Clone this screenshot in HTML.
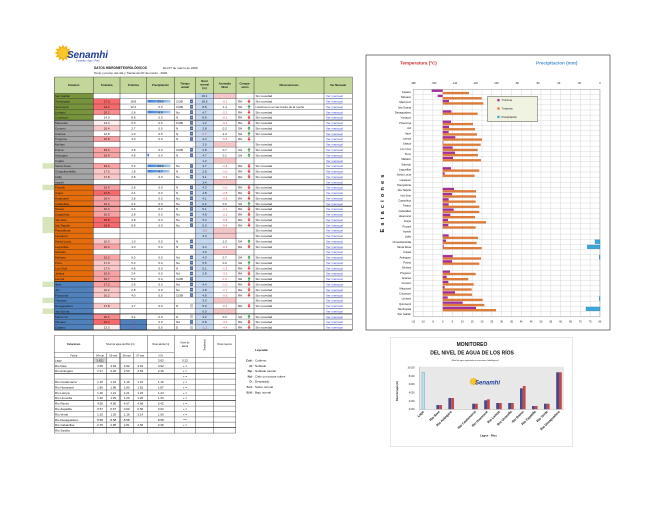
<!DOCTYPE html>
<html><head><meta charset="utf-8">
<style>
html,body{margin:0;padding:0;background:#fff;width:660px;height:510px;overflow:hidden}
svg text{font-family:"Liberation Sans",Arial,sans-serif;font-size:3px;fill:#111}
.m{text-anchor:middle}.e{text-anchor:end}
.r{fill:#e03a4a !important}
.lk{fill:#2a3fd6 !important;text-decoration:underline}
.bd{font-weight:bold}
.h{font-size:2.7px !important;font-weight:bold}
.sm{font-size:2.5px !important}
.cl{font-size:2.7px !important}
.pu{fill:#a0309b}.or{fill:#dd7b3a}.cy{fill:#3aa8d8;stroke:#2479a8;stroke-width:0.3}
</style></head><body>
<svg width="660" height="510" viewBox="0 0 660 510" xmlns="http://www.w3.org/2000/svg">
<defs>
<linearGradient id="pg" x1="0" x2="1"><stop offset="0" stop-color="#3b7dd8"/><stop offset="1" stop-color="#a9cbef"/></linearGradient>
<polygon id="dn" points="-0.6,0.8 0.6,0.8 0.6,2.6 1.6,2.6 0,4.6 -1.6,2.6 -0.6,2.6" fill="#e23b3b"/>
<polygon id="up" points="-0.6,4.6 0.6,4.6 0.6,2.8 1.6,2.8 0,0.8 -1.6,2.8 -0.6,2.8" fill="#3c9c46"/>
<g id="ic"><rect x="0" y="0.9" width="3" height="3.6" fill="#4a6aa8"/><rect x="0.5" y="2.4" width="2" height="0.5" fill="#dfe8f5"/></g>
<g id="ic2"><rect x="0" y="0.9" width="3" height="3.6" fill="#c4ccd8"/></g>
<polygon id="sun" points="8.5,0 5.6,1.5 7.36,4.25 4.1,4.1 4.25,7.36 1.5,5.6 0,8.5 -1.5,5.6 -4.25,7.36 -4.1,4.1 -7.36,4.25 -5.6,1.5 -8.5,0 -5.6,-1.5 -7.36,-4.25 -4.1,-4.1 -4.25,-7.36 -1.5,-5.6 0,-8.5 1.5,-5.6 4.25,-7.36 4.1,-4.1 7.36,-4.25 5.6,-1.5" fill="#f4b41a"/>
</defs>

<!-- LOGO -->
<use href="#sun" transform="translate(63,53)"/>
<circle cx="63" cy="53" r="4.8" fill="#f9c72a"/>
<text x="67" y="58" style="font-size:10px;font-weight:bold;font-style:italic;fill:#1e3c96" textLength="41">Senamhi</text>
<text x="76" y="61.6" style="font-size:2.4px;fill:#1e3c96">Consulta - Agro - Perú</text>
<text x="94" y="68.8" class="bd" style="font-size:3.2px">DATOS HIDROMETEOROLÓGICOS</text>
<text x="163" y="68.8" style="font-size:3.1px">Del 07 de marzo de 2020</text>
<text x="94" y="73.8" style="font-size:3px">Temp y precip. del día y Tiende del 07 de marzo - 2020</text>

<!-- MAIN TABLE backgrounds -->
<rect x="54.3" y="77" width="298" height="16.3" fill="#c4d79b"/>
<rect x="54.3" y="93.3" width="39" height="26.9" fill="#77933c"/>
<rect x="54.3" y="120.2" width="39" height="64.56" fill="#a6a6a6"/>
<rect x="54.3" y="184.76" width="39" height="96.84" fill="#e46c0a"/>
<rect x="54.3" y="281.6" width="39" height="48.42" fill="#4f81bd"/>
<rect x="195.7" y="93.3" width="17.6" height="236.72" fill="#c6d9f1"/>
<g fill="#f4c7c9">
<rect x="213.3" y="93.3" width="22.7" height="5.38"/>
<rect x="213.3" y="141.72" width="22.7" height="5.38"/>
<rect x="213.3" y="157.86" width="22.7" height="5.38"/>
<rect x="213.3" y="179.38" width="22.7" height="5.38"/>
<rect x="213.3" y="227.8" width="22.7" height="10.76"/>
<rect x="213.3" y="249.32" width="22.7" height="5.38"/>
<rect x="213.3" y="297.74" width="22.7" height="5.38"/>
<rect x="213.3" y="308.5" width="22.7" height="5.38"/>
</g>
<rect x="120" y="319.26" width="26.7" height="10.76" fill="#4f81bd"/>
<g fill="#d8e4bc">
<rect x="42.5" y="163.24" width="11.8" height="5.38"/>
<rect x="42.5" y="184.76" width="11.8" height="5.38"/>
<rect x="42.5" y="217.04" width="11.8" height="16.14"/>
<rect x="42.5" y="281.6" width="11.8" height="5.38"/>
<rect x="42.5" y="297.74" width="11.8" height="5.38"/>
<rect x="42.5" y="308.5" width="11.8" height="5.38"/>
</g>

<!-- gray bands -->
<path d="M236 98.68H352.3M236 109.44H352.3M236 114.82H352.3M236 125.58H352.3M236 130.96H352.3M236 136.34H352.3M236 141.72H352.3M236 152.48H352.3M236 157.86H352.3M236 168.62H352.3M236 174H352.3M236 179.38H352.3M236 190.14H352.3M236 195.52H352.3M236 200.9H352.3M236 211.66H352.3M236 217.04H352.3M236 222.42H352.3M236 227.8H352.3M236 233.18H352.3M236 238.56H352.3M236 243.94H352.3M236 249.32H352.3M236 254.7H352.3M236 260.08H352.3M236 265.46H352.3M236 270.84H352.3M236 276.22H352.3M236 286.98H352.3M236 292.36H352.3M236 297.74H352.3M236 303.12H352.3M236 308.5H352.3M236 319.26H352.3M236 324.64H352.3" stroke="#b4b4b4" stroke-width="1" fill="none"/>

<!-- header text -->
<text x="73.8" y="86" class="m h">Estación</text>
<text x="106.7" y="86" class="m h">Tmáxima</text>
<text x="133.3" y="86" class="m h">Tmínima</text>
<text x="160.5" y="86" class="m h">Precipitación</text>
<text x="185" y="84.5" class="m h">Tiempo</text><text x="185" y="88" class="m h">actual</text>
<text x="204.5" y="82" class="m h">Nivel</text><text x="204.5" y="85.5" class="m h">normal</text><text x="204.5" y="89" class="m h">(m)</text>
<text x="224.7" y="84.5" class="m h">Anomalía</text><text x="224.7" y="88" class="m h">Nivel</text>
<text x="245" y="84.5" class="m h">Compar-</text><text x="245" y="88" class="m h">ación</text>
<text x="289" y="86" class="m h">Observaciones</text>
<text x="338" y="86" class="m h">Ver Mensual</text>

<!-- rows -->
<g transform="translate(0,93.3)"><text x="55" y="3.9">San Gabán</text><text x="204.5" y="3.9" class="m">19.1</text><text x="255.5" y="3.9">Sin novedad</text><text x="326" y="3.9" class="lk">Ver mensual</text></g>
<g transform="translate(0,98.68)"><rect x="93.3" width="26.7" height="5.38" fill="#f8696b"/><rect x="147.5" y="1.3" width="23" height="2.6" fill="url(#pg)"/><text x="55" y="3.9">Tambopata</text><text x="106.7" y="3.9" class="m">27.0</text><text x="133.3" y="3.9" class="m">18.8</text><text x="160.5" y="3.9" class="m">13.0</text><text x="176" y="3.9">CUBI</text><use href="#ic" x="190"/><text x="204.5" y="3.9" class="m">18.6</text><text x="224.7" y="3.9" class="m r">-0.1</text><text x="238" y="3.9">RH</text><use href="#dn" x="249"/><text x="255.5" y="3.9">Sin novedad</text><text x="326" y="3.9" class="lk">Ver mensual</text></g>
<g transform="translate(0,104.06)"><rect x="93.3" width="26.7" height="5.38" fill="#f8696b"/><text x="55" y="3.9">Quincemil</text><text x="106.7" y="3.9" class="m">21.2</text><text x="133.3" y="3.9" class="m">12.2</text><text x="160.5" y="3.9" class="m">0.0</text><text x="176" y="3.9">CUBI</text><use href="#ic" x="190"/><text x="204.5" y="3.9" class="m">8.8</text><text x="224.7" y="3.9" class="m">1.4</text><text x="238" y="3.9">SH</text><use href="#up" x="249"/><text x="255.5" y="3.9">Llovizna en en las horas de la noche</text><text x="326" y="3.9" class="lk">Ver mensual</text></g>
<g transform="translate(0,109.44)"><rect x="93.3" width="26.7" height="5.38" fill="#f98c8e"/><rect x="147.5" y="1.3" width="23" height="2.6" fill="url(#pg)"/><text x="55" y="3.9">Limbani</text><text x="106.7" y="3.9" class="m">20.2</text><text x="133.3" y="3.9" class="m">2.8</text><text x="160.5" y="3.9" class="m">6.0</text><text x="176" y="3.9">Nu</text><use href="#ic" x="190"/><text x="204.5" y="3.9" class="m">4.7</text><text x="224.7" y="3.9" class="m r">-2.2</text><text x="238" y="3.9">RH</text><use href="#dn" x="249"/><text x="255.5" y="3.9">Sin novedad</text><text x="326" y="3.9" class="lk">Ver mensual</text></g>
<g transform="translate(0,114.82)"><text x="55" y="3.9">Cuyocuyo</text><text x="106.7" y="3.9" class="m">14.0</text><text x="133.3" y="3.9" class="m">8.8</text><text x="160.5" y="3.9" class="m">0.0</text><text x="176" y="3.9">N</text><use href="#ic" x="190"/><text x="204.5" y="3.9" class="m">8.8</text><text x="224.7" y="3.9" class="m r">-0.1</text><text x="238" y="3.9">RH</text><use href="#dn" x="249"/><text x="255.5" y="3.9">Sin novedad</text><text x="326" y="3.9" class="lk">Ver mensual</text></g>
<g transform="translate(0,120.2)"><rect x="93.3" width="26.7" height="5.38" fill="#fdeeee"/><text x="55" y="3.9">Macusani</text><text x="106.7" y="3.9" class="m">14.4</text><text x="133.3" y="3.9" class="m">5.0</text><text x="160.5" y="3.9" class="m">0.0</text><text x="176" y="3.9">CUBI</text><use href="#ic" x="190"/><text x="204.5" y="3.9" class="m">1.2</text><text x="224.7" y="3.9" class="m r">-0.4</text><text x="238" y="3.9">RH</text><use href="#dn" x="249"/><text x="255.5" y="3.9">Sin novedad</text><text x="326" y="3.9" class="lk">Ver mensual</text></g>
<g transform="translate(0,125.58)"><rect x="93.3" width="26.7" height="5.38" fill="#fbc8c9"/><text x="55" y="3.9">Crucero</text><text x="106.7" y="3.9" class="m">16.4</text><text x="133.3" y="3.9" class="m">2.7</text><text x="160.5" y="3.9" class="m">0.0</text><text x="176" y="3.9">N</text><use href="#ic" x="190"/><text x="204.5" y="3.9" class="m">2.8</text><text x="224.7" y="3.9" class="m">0.2</text><text x="238" y="3.9">SH</text><use href="#up" x="249"/><text x="255.5" y="3.9">Sin novedad</text><text x="326" y="3.9" class="lk">Ver mensual</text></g>
<g transform="translate(0,130.96)"><text x="55" y="3.9">Ananea</text><text x="106.7" y="3.9" class="m">12.8</text><text x="133.3" y="3.9" class="m">1.0</text><text x="160.5" y="3.9" class="m">0.0</text><text x="176" y="3.9">N</text><use href="#ic" x="190"/><text x="204.5" y="3.9" class="m r">0.7</text><text x="224.7" y="3.9" class="m">2.3</text><text x="238" y="3.9">SH</text><use href="#up" x="249"/><text x="255.5" y="3.9">Sin novedad</text><text x="326" y="3.9" class="lk">Ver mensual</text></g>
<g transform="translate(0,136.34)"><rect x="93.3" width="26.7" height="5.38" fill="#f9a3a5"/><text x="55" y="3.9">Progreso</text><text x="106.7" y="3.9" class="m">16.8</text><text x="133.3" y="3.9" class="m">3.0</text><text x="160.5" y="3.9" class="m">0.0</text><text x="176" y="3.9">N</text><use href="#ic" x="190"/><text x="204.5" y="3.9" class="m">4.4</text><text x="224.7" y="3.9" class="m r">-5.8</text><text x="238" y="3.9">RH</text><use href="#dn" x="249"/><text x="326" y="3.9" class="lk">Ver mensual</text></g>
<g transform="translate(0,141.72)"><text x="55" y="3.9">Muñani</text><text x="204.5" y="3.9" class="m">3.0</text><text x="255.5" y="3.9">Sin novedad</text><text x="326" y="3.9" class="lk">Ver mensual</text></g>
<g transform="translate(0,147.1)"><rect x="93.3" width="26.7" height="5.38" fill="#f9a3a5"/><text x="55" y="3.9">Putina</text><text x="106.7" y="3.9" class="m">16.4</text><text x="133.3" y="3.9" class="m">4.8</text><text x="160.5" y="3.9" class="m">0.0</text><text x="176" y="3.9">CUBI</text><use href="#ic" x="190"/><text x="204.5" y="3.9" class="m">2.8</text><text x="224.7" y="3.9" class="m">0.7</text><text x="238" y="3.9">SH</text><use href="#up" x="249"/><text x="255.5" y="3.9">Sin novedad</text><text x="326" y="3.9" class="lk">Ver mensual</text></g>
<g transform="translate(0,152.48)"><rect x="93.3" width="26.7" height="5.38" fill="#f9a3a5"/><rect x="147.5" y="1.3" width="1.6" height="2.6" fill="#3b7dd8"/><text x="55" y="3.9">Azángaro</text><text x="106.7" y="3.9" class="m">16.4</text><text x="133.3" y="3.9" class="m">4.8</text><text x="160.5" y="3.9" class="m">0.4</text><text x="176" y="3.9">N</text><use href="#ic" x="190"/><text x="204.5" y="3.9" class="m">4.7</text><text x="224.7" y="3.9" class="m">0.1</text><text x="238" y="3.9">SH</text><use href="#up" x="249"/><text x="255.5" y="3.9">Sin novedad</text><text x="326" y="3.9" class="lk">Ver mensual</text></g>
<g transform="translate(0,157.86)"><text x="55" y="3.9">Cojata</text><text x="204.5" y="3.9" class="m">1.2</text><text x="326" y="3.9" class="lk">Ver mensual</text></g>
<g transform="translate(0,163.24)"><rect x="93.3" width="26.7" height="5.38" fill="#f9a3a5"/><rect x="147.5" y="1.3" width="23" height="2.6" fill="url(#pg)"/><text x="55" y="3.9">Santa Rosa</text><text x="106.7" y="3.9" class="m">16.4</text><text x="133.3" y="3.9" class="m">5.2</text><text x="160.5" y="3.9" class="m">13.0</text><text x="176" y="3.9">Nu</text><use href="#ic" x="190"/><text x="204.5" y="3.9" class="m">4.7</text><text x="224.7" y="3.9" class="m r">-1.8</text><text x="238" y="3.9">RH</text><use href="#dn" x="249"/><text x="255.5" y="3.9">Sin novedad</text><text x="326" y="3.9" class="lk">Ver mensual</text></g>
<g transform="translate(0,168.62)"><rect x="93.3" width="26.7" height="5.38" fill="#fbc8c9"/><rect x="147.5" y="1.3" width="22" height="2.6" fill="url(#pg)"/><text x="55" y="3.9">Chuquibambilla</text><text x="106.7" y="3.9" class="m">17.0</text><text x="133.3" y="3.9" class="m">1.8</text><text x="160.5" y="3.9" class="m">4.7</text><text x="176" y="3.9">N</text><use href="#ic" x="190"/><text x="204.5" y="3.9" class="m">2.8</text><text x="224.7" y="3.9" class="m r">-1.0</text><text x="238" y="3.9">RH</text><use href="#dn" x="249"/><text x="255.5" y="3.9">Sin novedad</text><text x="326" y="3.9" class="lk">Ver mensual</text></g>
<g transform="translate(0,174)"><rect x="93.3" width="26.7" height="5.38" fill="#fbc8c9"/><text x="55" y="3.9">Llally</text><text x="106.7" y="3.9" class="m">17.8</text><text x="133.3" y="3.9" class="m">2.8</text><text x="160.5" y="3.9" class="m">0.0</text><text x="176" y="3.9">Nu</text><use href="#ic" x="190"/><text x="204.5" y="3.9" class="m">3.1</text><text x="224.7" y="3.9" class="m r">-0.3</text><text x="238" y="3.9">RH</text><use href="#dn" x="249"/><text x="255.5" y="3.9">Sin novedad</text><text x="326" y="3.9" class="lk">Ver mensual</text></g>
<g transform="translate(0,179.38)"><text x="55" y="3.9">Ayaviri</text><text x="204.5" y="3.9" class="m">3.4</text><text x="326" y="3.9" class="lk">Ver mensual</text></g>
<g transform="translate(0,184.76)"><rect x="93.3" width="26.7" height="5.38" fill="#f9a3a5"/><text x="55" y="3.9">Pucará</text><text x="106.7" y="3.9" class="m">16.4</text><text x="133.3" y="3.9" class="m">2.8</text><text x="160.5" y="3.9" class="m">0.0</text><text x="176" y="3.9">N</text><use href="#ic" x="190"/><text x="204.5" y="3.9" class="m">4.3</text><text x="224.7" y="3.9" class="m r">-1.0</text><text x="238" y="3.9">RH</text><use href="#dn" x="249"/><text x="255.5" y="3.9">Sin novedad</text><text x="326" y="3.9" class="lk">Ver mensual</text></g>
<g transform="translate(0,190.14)"><rect x="93.3" width="26.7" height="5.38" fill="#f8696b"/><text x="55" y="3.9">Arapa</text><text x="106.7" y="3.9" class="m">21.8</text><text x="133.3" y="3.9" class="m">2.4</text><text x="160.5" y="3.9" class="m">0.0</text><text x="176" y="3.9">N</text><use href="#ic" x="190"/><text x="204.5" y="3.9" class="m">4.8</text><text x="224.7" y="3.9" class="m r">-2.8</text><text x="238" y="3.9">RH</text><use href="#dn" x="249"/><text x="255.5" y="3.9">Sin novedad</text><text x="326" y="3.9" class="lk">Ver mensual</text></g>
<g transform="translate(0,195.52)"><rect x="93.3" width="26.7" height="5.38" fill="#f9a3a5"/><text x="55" y="3.9">Huancané</text><text x="106.7" y="3.9" class="m">16.4</text><text x="133.3" y="3.9" class="m">3.8</text><text x="160.5" y="3.9" class="m">0.0</text><text x="176" y="3.9">Nu</text><use href="#ic" x="190"/><text x="204.5" y="3.9" class="m">4.1</text><text x="224.7" y="3.9" class="m r">-0.8</text><text x="238" y="3.9">RH</text><use href="#dn" x="249"/><text x="255.5" y="3.9">Sin novedad</text><text x="326" y="3.9" class="lk">Ver mensual</text></g>
<g transform="translate(0,200.9)"><rect x="93.3" width="26.7" height="5.38" fill="#f9a3a5"/><text x="55" y="3.9">Cabanillas</text><text x="106.7" y="3.9" class="m">16.4</text><text x="133.3" y="3.9" class="m">0.2</text><text x="160.5" y="3.9" class="m">0.0</text><text x="176" y="3.9">Nu</text><use href="#ic" x="190"/><text x="204.5" y="3.9" class="m">0.2</text><text x="224.7" y="3.9" class="m">0.0</text><text x="238" y="3.9">SH</text><use href="#up" x="249"/><text x="255.5" y="3.9">Sin novedad</text><text x="326" y="3.9" class="lk">Ver mensual</text></g>
<g transform="translate(0,206.28)"><rect x="93.3" width="26.7" height="5.38" fill="#f9a3a5"/><text x="55" y="3.9">Taraco</text><text x="106.7" y="3.9" class="m">16.4</text><text x="133.3" y="3.9" class="m">3.2</text><text x="160.5" y="3.9" class="m">0.0</text><text x="176" y="3.9">N</text><use href="#ic" x="190"/><text x="204.5" y="3.9" class="m">5.1</text><text x="224.7" y="3.9" class="m r">-2.1</text><text x="238" y="3.9">RH</text><use href="#dn" x="249"/><text x="255.5" y="3.9">Sin novedad</text><text x="326" y="3.9" class="lk">Ver mensual</text></g>
<g transform="translate(0,211.66)"><rect x="93.3" width="26.7" height="5.38" fill="#f9a3a5"/><text x="55" y="3.9">Capachica</text><text x="106.7" y="3.9" class="m">16.0</text><text x="133.3" y="3.9" class="m">2.8</text><text x="160.5" y="3.9" class="m">0.0</text><text x="176" y="3.9">Nu</text><use href="#ic" x="190"/><text x="204.5" y="3.9" class="m">4.8</text><text x="224.7" y="3.9" class="m r">-2.2</text><text x="238" y="3.9">RH</text><use href="#dn" x="249"/><text x="255.5" y="3.9">Sin novedad</text><text x="326" y="3.9" class="lk">Ver mensual</text></g>
<g transform="translate(0,217.04)"><rect x="93.3" width="26.7" height="5.38" fill="#f8696b"/><text x="55" y="3.9">Isla Soto</text><text x="106.7" y="3.9" class="m">18.8</text><text x="133.3" y="3.9" class="m">4.8</text><text x="160.5" y="3.9" class="m">0.0</text><text x="176" y="3.9">Nu</text><use href="#ic" x="190"/><text x="204.5" y="3.9" class="m">5.4</text><text x="224.7" y="3.9" class="m r">-5.8</text><text x="238" y="3.9">RH</text><use href="#dn" x="249"/><text x="255.5" y="3.9">Sin novedad</text><text x="326" y="3.9" class="lk">Ver mensual</text></g>
<g transform="translate(0,222.42)"><rect x="93.3" width="26.7" height="5.38" fill="#f8696b"/><text x="55" y="3.9">Isla Taquile</text><text x="106.7" y="3.9" class="m">18.8</text><text x="133.3" y="3.9" class="m">8.8</text><text x="160.5" y="3.9" class="m">0.0</text><text x="176" y="3.9">Nu</text><use href="#ic" x="190"/><text x="204.5" y="3.9" class="m">5.3</text><text x="224.7" y="3.9" class="m r">-5.8</text><text x="238" y="3.9">RH</text><use href="#dn" x="249"/><text x="255.5" y="3.9">Sin novedad</text><text x="326" y="3.9" class="lk">Ver mensual</text></g>
<g transform="translate(0,227.8)"><text x="55" y="3.9">Pampahuta</text><text x="204.5" y="3.9" class="m r">-0.2</text><text x="255.5" y="3.9">Sin novedad</text><text x="326" y="3.9" class="lk">Ver mensual</text></g>
<g transform="translate(0,233.18)"><text x="55" y="3.9">Laraqueri</text><text x="204.5" y="3.9" class="m">3.0</text><text x="255.5" y="3.9">Sin novedad</text><text x="326" y="3.9" class="lk">Ver mensual</text></g>
<g transform="translate(0,238.56)"><rect x="93.3" width="26.7" height="5.38" fill="#fbc8c9"/><text x="55" y="3.9">Santa Lucía</text><text x="106.7" y="3.9" class="m">16.0</text><text x="133.3" y="3.9" class="m">1.0</text><text x="160.5" y="3.9" class="m">0.0</text><text x="176" y="3.9">N</text><use href="#ic" x="190"/><text x="224.7" y="3.9" class="m">1.0</text><text x="238" y="3.9">SH</text><use href="#up" x="249"/><text x="255.5" y="3.9">Sin novedad</text><text x="326" y="3.9" class="lk">Ver mensual</text></g>
<g transform="translate(0,243.94)"><rect x="93.3" width="26.7" height="5.38" fill="#f9a3a5"/><text x="55" y="3.9">Lagunillas</text><text x="106.7" y="3.9" class="m">16.4</text><text x="133.3" y="3.9" class="m">4.0</text><text x="160.5" y="3.9" class="m">0.0</text><text x="176" y="3.9">N</text><use href="#ic" x="190"/><text x="204.5" y="3.9" class="m">4.4</text><text x="224.7" y="3.9" class="m r">-0.4</text><text x="238" y="3.9">RH</text><use href="#dn" x="249"/><text x="255.5" y="3.9">Sin novedad</text><text x="326" y="3.9" class="lk">Ver mensual</text></g>
<g transform="translate(0,249.32)"><text x="55" y="3.9">Salcedo</text><text x="204.5" y="3.9" class="m">4.0</text><text x="326" y="3.9" class="lk">Ver mensual</text></g>
<g transform="translate(0,254.7)"><rect x="93.3" width="26.7" height="5.38" fill="#f9a3a5"/><text x="55" y="3.9">Mañazo</text><text x="106.7" y="3.9" class="m">16.2</text><text x="133.3" y="3.9" class="m">5.0</text><text x="160.5" y="3.9" class="m">0.0</text><text x="176" y="3.9">Nd</text><use href="#ic" x="190"/><text x="204.5" y="3.9" class="m">4.3</text><text x="224.7" y="3.9" class="m">0.7</text><text x="238" y="3.9">SH</text><use href="#up" x="249"/><text x="255.5" y="3.9">Sin novedad</text><text x="326" y="3.9" class="lk">Ver mensual</text></g>
<g transform="translate(0,260.08)"><rect x="93.3" width="26.7" height="5.38" fill="#fbc8c9"/><text x="55" y="3.9">Puno</text><text x="106.7" y="3.9" class="m">17.0</text><text x="133.3" y="3.9" class="m">5.0</text><text x="160.5" y="3.9" class="m">0.0</text><text x="176" y="3.9">Nu</text><use href="#ic" x="190"/><text x="204.5" y="3.9" class="m">5.5</text><text x="224.7" y="3.9" class="m">0.0</text><text x="238" y="3.9">SH</text><use href="#up" x="249"/><text x="255.5" y="3.9">Sin novedad</text><text x="326" y="3.9" class="lk">Ver mensual</text></g>
<g transform="translate(0,265.46)"><rect x="93.3" width="26.7" height="5.38" fill="#fbc8c9"/><text x="55" y="3.9">Los Uros</text><text x="106.7" y="3.9" class="m">17.4</text><text x="133.3" y="3.9" class="m">4.8</text><text x="160.5" y="3.9" class="m">0.0</text><text x="176" y="3.9">N</text><use href="#ic" x="190"/><text x="204.5" y="3.9" class="m">6.1</text><text x="224.7" y="3.9" class="m r">-1.3</text><text x="238" y="3.9">RH</text><use href="#dn" x="249"/><text x="255.5" y="3.9">Sin novedad</text><text x="326" y="3.9" class="lk">Ver mensual</text></g>
<g transform="translate(0,270.84)"><rect x="93.3" width="26.7" height="5.38" fill="#f9a3a5"/><text x="55" y="3.9">Juliaca</text><text x="106.7" y="3.9" class="m">16.0</text><text x="133.3" y="3.9" class="m">2.4</text><text x="160.5" y="3.9" class="m">0.0</text><text x="176" y="3.9">Nd</text><use href="#ic" x="190"/><text x="204.5" y="3.9" class="m">2.8</text><text x="224.7" y="3.9" class="m r">-3.2</text><text x="238" y="3.9">RH</text><use href="#dn" x="249"/><text x="255.5" y="3.9">Sin novedad</text><text x="326" y="3.9" class="lk">Ver mensual</text></g>
<g transform="translate(0,276.22)"><rect x="93.3" width="26.7" height="5.38" fill="#f9a3a5"/><text x="55" y="3.9">Lampa</text><text x="106.7" y="3.9" class="m">16.7</text><text x="133.3" y="3.9" class="m">5.3</text><text x="160.5" y="3.9" class="m">0.0</text><text x="176" y="3.9">CUBI</text><use href="#ic" x="190"/><text x="224.7" y="3.9" class="m r">0.3</text><text x="238" y="3.9">SH</text><use href="#up" x="249"/><text x="255.5" y="3.9">Sin novedad</text><text x="326" y="3.9" class="lk">Ver mensual</text></g>
<g transform="translate(0,281.6)"><rect x="93.3" width="26.7" height="5.38" fill="#f9a3a5"/><text x="55" y="3.9">Ilave</text><text x="106.7" y="3.9" class="m">17.2</text><text x="133.3" y="3.9" class="m">2.8</text><text x="160.5" y="3.9" class="m">0.0</text><text x="176" y="3.9">Nd</text><use href="#ic" x="190"/><text x="204.5" y="3.9" class="m">4.4</text><text x="224.7" y="3.9" class="m r">-1.0</text><text x="238" y="3.9">RH</text><use href="#dn" x="249"/><text x="255.5" y="3.9">Sin novedad</text><text x="326" y="3.9" class="lk">Ver mensual</text></g>
<g transform="translate(0,286.98)"><rect x="93.3" width="26.7" height="5.38" fill="#fbc8c9"/><text x="55" y="3.9">Juli</text><text x="106.7" y="3.9" class="m">16.2</text><text x="133.3" y="3.9" class="m">2.8</text><text x="160.5" y="3.9" class="m">0.0</text><text x="176" y="3.9">Nu</text><use href="#ic" x="190"/><text x="204.5" y="3.9" class="m">4.8</text><text x="224.7" y="3.9" class="m r">-1.7</text><text x="238" y="3.9">RH</text><use href="#dn" x="249"/><text x="255.5" y="3.9">Sin novedad</text><text x="326" y="3.9" class="lk">Ver mensual</text></g>
<g transform="translate(0,292.36)"><rect x="93.3" width="26.7" height="5.38" fill="#fbc8c9"/><text x="55" y="3.9">Pizacoma</text><text x="106.7" y="3.9" class="m">16.2</text><text x="133.3" y="3.9" class="m">4.0</text><text x="160.5" y="3.9" class="m">0.0</text><text x="176" y="3.9">CUBI</text><use href="#ic" x="190"/><text x="204.5" y="3.9" class="m">4.8</text><text x="224.7" y="3.9" class="m r">-0.8</text><text x="238" y="3.9">RH</text><use href="#dn" x="249"/><text x="255.5" y="3.9">Sin novedad</text><text x="326" y="3.9" class="lk">Ver mensual</text></g>
<g transform="translate(0,297.74)"><text x="55" y="3.9">Yunguyo</text><text x="204.5" y="3.9" class="m">3.0</text><text x="255.5" y="3.9">Sin novedad</text><text x="326" y="3.9" class="lk">Ver mensual</text></g>
<g transform="translate(0,303.12)"><rect x="93.3" width="26.7" height="5.38" fill="#fbc8c9"/><text x="55" y="3.9">Desaguadero</text><text x="106.7" y="3.9" class="m">17.8</text><text x="133.3" y="3.9" class="m">4.7</text><text x="160.5" y="3.9" class="m">0.0</text><text x="176" y="3.9">D</text><use href="#ic2" x="190"/><text x="204.5" y="3.9" class="m">5.0</text><text x="224.7" y="3.9" class="m r">-5.4</text><text x="238" y="3.9">RH</text><use href="#dn" x="249"/><text x="255.5" y="3.9">Sin novedad</text><text x="326" y="3.9" class="lk">Ver mensual</text></g>
<g transform="translate(0,308.5)"><text x="55" y="3.9">Isla Suana</text><text x="204.5" y="3.9" class="m">0.0</text><text x="326" y="3.9" class="lk">Ver mensual</text></g>
<g transform="translate(0,313.88)"><rect x="93.3" width="26.7" height="5.38" fill="#f98c8e"/><text x="55" y="3.9">Mazocruz</text><text x="106.7" y="3.9" class="m">20.4</text><text x="133.3" y="3.9" class="m">3.2</text><text x="160.5" y="3.9" class="m">0.0</text><text x="176" y="3.9">D</text><use href="#ic2" x="190"/><text x="204.5" y="3.9" class="m">3.2</text><text x="224.7" y="3.9" class="m">0.0</text><text x="238" y="3.9">SH</text><use href="#up" x="249"/><text x="255.5" y="3.9">Sin novedad</text><text x="326" y="3.9" class="lk">Ver mensual</text></g>
<g transform="translate(0,319.26)"><rect x="93.3" width="26.7" height="5.38" fill="#f8696b"/><text x="55" y="3.9">Tahuaco</text><text x="106.7" y="3.9" class="m">16.4</text><text x="133.3" y="3.9" class="m" style="fill:#c03a8a">3.4</text><text x="160.5" y="3.9" class="m">0.0</text><text x="176" y="3.9">Nd</text><use href="#ic" x="190"/><text x="204.5" y="3.9" class="m">0.8</text><text x="224.7" y="3.9" class="m r">-3.0</text><text x="238" y="3.9">RH</text><use href="#dn" x="249"/><text x="255.5" y="3.9">Sin novedad</text><text x="326" y="3.9" class="lk">Ver mensual</text></g>
<g transform="translate(0,324.64)"><rect x="93.3" width="26.7" height="5.38" fill="#fdeeee"/><text x="55" y="3.9">Capazo</text><text x="106.7" y="3.9" class="m">13.3</text><text x="133.3" y="3.9" class="m" style="fill:#c03a8a">-0.6</text><text x="160.5" y="3.9" class="m">0.0</text><text x="176" y="3.9">D</text><use href="#ic2" x="190"/><text x="204.5" y="3.9" class="m r">-1.2</text><text x="224.7" y="3.9" class="m r">-4.4</text><text x="238" y="3.9">RH</text><use href="#dn" x="249"/><text x="255.5" y="3.9">Sin novedad</text><text x="326" y="3.9" class="lk">Ver mensual</text></g>

<!-- main table lines -->
<path d="M54.3 77H352.3M54.3 93.3H352.3M54.3 98.68H236M54.3 104.06H352.3M54.3 109.44H236M54.3 114.82H236M54.3 120.2H352.3M54.3 125.58H236M54.3 130.96H236M54.3 136.34H236M54.3 141.72H236M54.3 147.1H352.3M54.3 152.48H236M54.3 157.86H236M54.3 163.24H352.3M54.3 168.62H236M54.3 174H236M54.3 179.38H236M54.3 184.76H352.3M54.3 190.14H236M54.3 195.52H236M54.3 200.9H236M54.3 206.28H352.3M54.3 211.66H236M54.3 217.04H236M54.3 222.42H236M54.3 227.8H236M54.3 233.18H236M54.3 238.56H236M54.3 243.94H236M54.3 249.32H236M54.3 254.7H236M54.3 260.08H236M54.3 265.46H236M54.3 270.84H236M54.3 276.22H236M54.3 281.6H352.3M54.3 286.98H236M54.3 292.36H236M54.3 297.74H236M54.3 303.12H236M54.3 308.5H236M54.3 313.88H352.3M54.3 319.26H236M54.3 324.64H236M54.3 330.02H352.3" stroke="#2a2a2a" stroke-width="0.35" fill="none"/>
<path d="M54.3 120.2H352.3M54.3 184.76H352.3M54.3 206.28H352.3M54.3 281.6H352.3M54.3 313.88H352.3M54.3 330.02H352.3" stroke="#111" stroke-width="0.7" fill="none"/>
<path d="M54.3 77V330M93.3 77V330M120 77V330M146.7 77V330M174.3 77V330M195.7 77V330M213.3 77V330M236 77V330M254 77V330M324 77V330M352.3 77V330" stroke="#2a2a2a" stroke-width="0.45" fill="none"/>

<!-- LOWER TABLE -->
<rect x="93.3" y="357.5" width="13.4" height="5.4" fill="#d9d9d9"/>
<path d="M54.3 335.3H235.7M54.3 352.7H174.3M54.3 357.5H235.7M54.3 362.9H235.7M54.3 368.3H235.7M54.3 373.7H235.7M54.3 379.1H235.7M54.3 384.5H235.7M54.3 389.9H235.7M54.3 395.3H235.7M54.3 400.7H235.7M54.3 406.1H235.7M54.3 411.5H235.7M54.3 416.9H235.7M54.3 422.3H235.7M54.3 427.7H235.7M54.3 433.1H235.7" stroke="#2a2a2a" stroke-width="0.35" fill="none"/>
<path d="M54.3 368.3H235.7M54.3 389.9H235.7M54.3 422.3H235.7" stroke="#b0b0b0" stroke-width="1" fill="none"/>
<path d="M54.3 373.7H235.7M54.3 400.7H235.7M54.3 427.7H235.7" stroke="#111" stroke-width="0.6" fill="none"/>
<path d="M54.3 335.3V433.1M93.3 335.3V433.1M147.3 335.3V433.1M174.3 335.3V433.1M195.7 335.3V433.1M213.3 335.3V433.1M235.7 335.3V433.1M106.7 352.7V433.1M133.3 352.7V433.1" stroke="#2a2a2a" stroke-width="0.4" fill="none"/>
<path d="M120 352.7V433.1" stroke="#2a2a2a" stroke-width="0.8" fill="none"/>
<text x="73.8" y="345" class="m sm bd">Estaciones</text>
<text x="120.3" y="345" class="m sm">Nivel de agua del Río (m)</text>
<text x="160.8" y="345" class="m sm">Nivel alerta (m)</text>
<text x="185" y="343.5" class="m sm">Nivel de</text><text x="185" y="347" class="m sm">alerta</text>
<text transform="translate(205.3,345) rotate(-90)" class="m sm">Tendencia</text>
<text x="224.5" y="345" class="m sm">Nivel cuenca</text>
<text x="73.8" y="356.3" class="m sm">Fecha</text>
<text x="100" y="356.3" class="m sm">04-mar</text><text x="113.3" y="356.3" class="m sm">05-mar</text><text x="126.7" y="356.3" class="m sm">06-mar</text><text x="140.3" y="356.3" class="m sm">07-mar</text><text x="160.8" y="356.3" class="m sm">N.N</text>

<g transform="translate(0,357.5)"><text x="55" y="3.9">Lago</text><text x="100" y="3.9" class="m">3.821</text><text x="160.8" y="3.9" class="m">3.82</text><text x="185" y="3.9" class="m">0.22</text></g>
<g transform="translate(0,362.9)"><text x="55" y="3.9">Rio Ilave</text><text x="100" y="3.9" class="m">3.95</text><text x="113.3" y="3.9" class="m">3.94</text><text x="126.7" y="3.9" class="m">3.92</text><text x="140.3" y="3.9" class="m">3.91</text><text x="160.8" y="3.9" class="m">3.92</text><text x="185" y="3.9" class="m">+ =</text></g>
<g transform="translate(0,368.3)"><text x="55" y="3.9">Rio Azángaro</text><text x="100" y="3.9" class="m">2.17</text><text x="113.3" y="3.9" class="m">2.26</text><text x="126.7" y="3.9" class="m">2.50</text><text x="140.3" y="3.9" class="m">2.53</text><text x="160.8" y="3.9" class="m">2.39</text><text x="185" y="3.9" class="m">+ =</text></g>
<g transform="translate(0,373.7)"><text x="185" y="3.9" class="m">+ =</text></g>
<g transform="translate(0,379.1)"><text x="55" y="3.9">Rio Coatamarca</text><text x="100" y="3.9" class="m">1.16</text><text x="113.3" y="3.9" class="m">1.16</text><text x="126.7" y="3.9" class="m">1.16</text><text x="140.3" y="3.9" class="m">1.16</text><text x="160.8" y="3.9" class="m">1.16</text><text x="185" y="3.9" class="m">+ =</text></g>
<g transform="translate(0,384.5)"><text x="55" y="3.9">Rio Huancané</text><text x="100" y="3.9" class="m">1.80</text><text x="113.3" y="3.9" class="m">1.80</text><text x="126.7" y="3.9" class="m">1.80</text><text x="140.3" y="3.9" class="m">1.81</text><text x="160.8" y="3.9" class="m">1.87</text><text x="185" y="3.9" class="m">+ =</text></g>
<g transform="translate(0,389.9)"><text x="55" y="3.9">Rio Lampa</text><text x="100" y="3.9" class="m">1.26</text><text x="113.3" y="3.9" class="m">1.21</text><text x="126.7" y="3.9" class="m">1.21</text><text x="140.3" y="3.9" class="m">1.23</text><text x="160.8" y="3.9" class="m">1.24</text><text x="185" y="3.9" class="m">+ =</text></g>
<g transform="translate(0,395.3)"><text x="55" y="3.9">Rio Unocolla</text><text x="100" y="3.9" class="m">1.20</text><text x="113.3" y="3.9" class="m">1.20</text><text x="126.7" y="3.9" class="m">1.20</text><text x="140.3" y="3.9" class="m">1.20</text><text x="160.8" y="3.9" class="m">1.20</text><text x="185" y="3.9" class="m">+ =</text></g>
<g transform="translate(0,400.7)"><text x="55" y="3.9">Rio Ramis</text><text x="100" y="3.9" class="m">4.50</text><text x="113.3" y="3.9" class="m">4.60</text><text x="126.7" y="3.9" class="m">4.67</text><text x="140.3" y="3.9" class="m">4.66</text><text x="160.8" y="3.9" class="m">5.42</text><text x="185" y="3.9" class="m">+ =</text></g>
<g transform="translate(0,406.1)"><text x="55" y="3.9">Rio Zapatilla</text><text x="100" y="3.9" class="m">0.57</text><text x="113.3" y="3.9" class="m">0.57</text><text x="126.7" y="3.9" class="m">0.60</text><text x="140.3" y="3.9" class="m">0.56</text><text x="160.8" y="3.9" class="m">0.62</text><text x="185" y="3.9" class="m">+ =</text></g>
<g transform="translate(0,411.5)"><text x="55" y="3.9">Rio Verde</text><text x="100" y="3.9" class="m">1.20</text><text x="113.3" y="3.9" class="m">1.20</text><text x="126.7" y="3.9" class="m">1.16</text><text x="140.3" y="3.9" class="m">1.14</text><text x="160.8" y="3.9" class="m">1.00</text><text x="185" y="3.9" class="m">+ =</text></g>
<g transform="translate(0,416.9)"><text x="55" y="3.9">Rio Desaguadero</text><text x="100" y="3.9" class="m">8.58</text><text x="113.3" y="3.9" class="m">8.58</text><text x="126.7" y="3.9" class="m">8.58</text><text x="160.8" y="3.9" class="m">8.58</text><text x="185" y="3.9" class="m">***</text></g>
<g transform="translate(0,422.3)"><text x="55" y="3.9">Rio Cabanillas</text><text x="100" y="3.9" class="m">2.75</text><text x="113.3" y="3.9" class="m">2.85</text><text x="126.7" y="3.9" class="m">2.81</text><text x="140.3" y="3.9" class="m">2.56</text><text x="160.8" y="3.9" class="m">2.36</text><text x="185" y="3.9" class="m">+ =</text></g>
<g transform="translate(0,427.7)"><text x="55" y="3.9">Rio Sandia</text></g>

<!-- Legend -->
<text x="255" y="351" class="bd" style="font-size:3px">Leyenda:</text>
<g style="font-size:2.8px">
<text x="253.5" y="361.5" class="e bd">Cub :</text><text x="255" y="361.5">Cubierto</text>
<text x="253.5" y="366.8" class="e bd">N :</text><text x="255" y="366.8">Nublado</text>
<text x="253.5" y="372.1" class="e bd">Np :</text><text x="255" y="372.1">Nublado parcial</text>
<text x="253.5" y="377.4" class="e bd">Nd :</text><text x="255" y="377.4">Cielo con pocas nubes</text>
<text x="253.5" y="382.7" class="e bd">D :</text><text x="255" y="382.7">Despejado</text>
<text x="253.5" y="388" class="e bd">S.H :</text><text x="255" y="388">Sobre normal</text>
<text x="253.5" y="393.3" class="e bd">B.N :</text><text x="255" y="393.3">Bajo normal</text>
</g>

<!-- RIGHT CHART -->
<rect x="366" y="55" width="244" height="275" fill="#fff" stroke="#404040" stroke-width="0.7"/>
<text x="400" y="64.5" class="bd" style="font-size:4.6px;fill:#d0312d">Temperatura (ºC)</text>
<text x="536" y="64.5" class="bd" style="font-size:4.6px;fill:#4a8fd4">Precipitacion (mm)</text>
<g>
<text x="413.2" y="84" class="m sm">-180</text><text x="433.95" y="84" class="m sm">-160</text><text x="454.7" y="84" class="m sm">-140</text><text x="475.45" y="84" class="m sm">-120</text><text x="496.2" y="84" class="m sm">-100</text><text x="516.95" y="84" class="m sm">-80</text><text x="537.7" y="84" class="m sm">-60</text><text x="558.45" y="84" class="m sm">-40</text><text x="579.2" y="84" class="m sm">-20</text><text x="599.95" y="84" class="m sm">0</text>
</g>
<path d="M413.2 89.3H599.95M413.2 94.47H599.95M413.2 99.64H599.95M413.2 104.81H599.95M413.2 109.98H599.95M413.2 115.15H599.95M413.2 120.32H599.95M413.2 125.49H599.95M413.2 130.66H599.95M413.2 135.83H599.95M413.2 141H599.95M413.2 146.17H599.95M413.2 151.34H599.95M413.2 156.51H599.95M413.2 161.68H599.95M413.2 166.85H599.95M413.2 172.02H599.95M413.2 177.19H599.95M413.2 182.36H599.95M413.2 187.53H599.95M413.2 192.7H599.95M413.2 197.87H599.95M413.2 203.04H599.95M413.2 208.21H599.95M413.2 213.38H599.95M413.2 218.55H599.95M413.2 223.72H599.95M413.2 228.89H599.95M413.2 234.06H599.95M413.2 239.23H599.95M413.2 244.4H599.95M413.2 249.57H599.95M413.2 254.74H599.95M413.2 259.91H599.95M413.2 265.08H599.95M413.2 270.25H599.95M413.2 275.42H599.95M413.2 280.59H599.95M413.2 285.76H599.95M413.2 290.93H599.95M413.2 296.1H599.95M413.2 301.27H599.95M413.2 306.44H599.95M413.2 311.61H599.95M413.2 316.78H599.95" stroke="#c9c9c9" stroke-width="0.35" fill="none"/>
<path d="M413.18 89.3V316.78M423.01 89.3V316.78M432.84 89.3V316.78M442.67 89.3V316.78M452.5 89.3V316.78M462.33 89.3V316.78M472.16 89.3V316.78M481.99 89.3V316.78M491.82 89.3V316.78M501.65 89.3V316.78M511.48 89.3V316.78M521.31 89.3V316.78M531.14 89.3V316.78M540.97 89.3V316.78M550.8 89.3V316.78M560.63 89.3V316.78M570.46 89.3V316.78M580.29 89.3V316.78M590.12 89.3V316.78M599.95 89.3V316.78" stroke="#c9c9c9" stroke-width="0.35" fill="none"/>
<rect x="413.2" y="89.3" width="186.75" height="227.48" fill="none" stroke="#9a9a9a" stroke-width="0.5"/>

<g>
<g transform="translate(0,89.3)"><text x="411" y="3.6" class="e cl">Capazo</text><rect x="431.67" y="0.3" width="11" height="2.3" class="pu"/><rect x="442.67" y="2.6" width="26.33" height="2.3" class="or"/></g>
<g transform="translate(0,94.47)"><text x="411" y="3.6" class="e cl">Tahuaco</text><rect x="437.67" y="0.3" width="5" height="2.3" class="pu"/><rect x="442.67" y="2.6" width="39" height="2.3" class="or"/></g>
<g transform="translate(0,99.64)"><text x="411" y="3.6" class="e cl">Mazocruz</text><rect x="442.67" y="0.3" width="6.33" height="2.3" class="pu"/><rect x="442.67" y="2.6" width="40.67" height="2.3" class="or"/></g>
<g transform="translate(0,104.81)"><text x="411" y="3.6" class="e cl">Isla Suana</text></g>
<g transform="translate(0,109.98)"><text x="411" y="3.6" class="e cl">Desaguadero</text><rect x="442.67" y="0.3" width="8.67" height="2.3" class="pu"/><rect x="442.67" y="2.6" width="35" height="2.3" class="or"/></g>
<g transform="translate(0,115.15)"><text x="411" y="3.6" class="e cl">Yunguyo</text></g>
<g transform="translate(0,120.32)"><text x="411" y="3.6" class="e cl">Pizacoma</text><rect x="442.67" y="0.3" width="8.33" height="2.3" class="pu"/><rect x="442.67" y="2.6" width="30.33" height="2.3" class="or"/></g>
<g transform="translate(0,125.49)"><text x="411" y="3.6" class="e cl">Juli</text><rect x="442.67" y="0.3" width="6.33" height="2.3" class="pu"/><rect x="442.67" y="2.6" width="32.33" height="2.3" class="or"/></g>
<g transform="translate(0,130.66)"><text x="411" y="3.6" class="e cl">Ilave</text><rect x="442.67" y="0.3" width="6" height="2.3" class="pu"/><rect x="442.67" y="2.6" width="34.33" height="2.3" class="or"/></g>
<g transform="translate(0,135.83)"><text x="411" y="3.6" class="e cl">Lampa</text><rect x="442.67" y="0.3" width="12.67" height="2.3" class="pu"/><rect x="442.67" y="2.6" width="39.33" height="2.3" class="or"/></g>
<g transform="translate(0,141)"><text x="411" y="3.6" class="e cl">Juliaca</text><rect x="442.67" y="0.3" width="0.67" height="2.3" class="pu"/><rect x="442.67" y="2.6" width="38" height="2.3" class="or"/></g>
<g transform="translate(0,146.17)"><text x="411" y="3.6" class="e cl">Los Uros</text><rect x="442.67" y="0.3" width="10" height="2.3" class="pu"/><rect x="442.67" y="2.6" width="35" height="2.3" class="or"/></g>
<g transform="translate(0,151.34)"><text x="411" y="3.6" class="e cl">Puno</text><rect x="442.67" y="0.3" width="12.33" height="2.3" class="pu"/><rect x="442.67" y="2.6" width="35.33" height="2.3" class="or"/></g>
<g transform="translate(0,156.51)"><text x="411" y="3.6" class="e cl">Mañazo</text><rect x="442.67" y="0.3" width="10.33" height="2.3" class="pu"/><rect x="442.67" y="2.6" width="38.33" height="2.3" class="or"/></g>
<g transform="translate(0,161.68)"><text x="411" y="3.6" class="e cl">Salcedo</text></g>
<g transform="translate(0,166.85)"><text x="411" y="3.6" class="e cl">Lagunillas</text><rect x="442.67" y="0.3" width="8.33" height="2.3" class="pu"/><rect x="442.67" y="2.6" width="36.67" height="2.3" class="or"/></g>
<g transform="translate(0,172.02)"><text x="411" y="3.6" class="e cl">Santa Lucía</text><rect x="442.67" y="0.3" width="2" height="2.3" class="pu"/><rect x="442.67" y="2.6" width="32" height="2.3" class="or"/></g>
<g transform="translate(0,177.19)"><text x="411" y="3.6" class="e cl">Laraqueri</text></g>
<g transform="translate(0,182.36)"><text x="411" y="3.6" class="e cl">Pampahuta</text></g>
<g transform="translate(0,187.53)"><text x="411" y="3.6" class="e cl">Isla Taquile</text><rect x="442.67" y="0.3" width="11.33" height="2.3" class="pu"/><rect x="442.67" y="2.6" width="33.33" height="2.3" class="or"/></g>
<g transform="translate(0,192.7)"><text x="411" y="3.6" class="e cl">Isla Soto</text><rect x="442.67" y="0.3" width="9.33" height="2.3" class="pu"/><rect x="442.67" y="2.6" width="33.33" height="2.3" class="or"/></g>
<g transform="translate(0,197.87)"><text x="411" y="3.6" class="e cl">Capachica</text><rect x="442.67" y="0.3" width="6" height="2.3" class="pu"/><rect x="442.67" y="2.6" width="33" height="2.3" class="or"/></g>
<g transform="translate(0,203.04)"><text x="411" y="3.6" class="e cl">Taraco</text><rect x="442.67" y="0.3" width="6" height="2.3" class="pu"/><rect x="442.67" y="2.6" width="36.67" height="2.3" class="or"/></g>
<g transform="translate(0,208.21)"><text x="411" y="3.6" class="e cl">Cabanillas</text><rect x="442.67" y="0.3" width="11" height="2.3" class="pu"/><rect x="442.67" y="2.6" width="36.67" height="2.3" class="or"/></g>
<g transform="translate(0,213.38)"><text x="411" y="3.6" class="e cl">Huancané</text><rect x="442.67" y="0.3" width="7.67" height="2.3" class="pu"/><rect x="442.67" y="2.6" width="32.33" height="2.3" class="or"/></g>
<g transform="translate(0,218.55)"><text x="411" y="3.6" class="e cl">Arapa</text><rect x="442.67" y="0.3" width="5.33" height="2.3" class="pu"/><rect x="442.67" y="2.6" width="43.33" height="2.3" class="or"/></g>
<g transform="translate(0,223.72)"><text x="411" y="3.6" class="e cl">Pucará</text><rect x="442.67" y="0.3" width="5.67" height="2.3" class="pu"/><rect x="442.67" y="2.6" width="33" height="2.3" class="or"/></g>
<g transform="translate(0,228.89)"><text x="411" y="3.6" class="e cl">Ayaviri</text></g>
<g transform="translate(0,234.06)"><text x="411" y="3.6" class="e cl">Llally</text><rect x="442.67" y="0.3" width="6" height="2.3" class="pu"/><rect x="442.67" y="2.6" width="35.33" height="2.3" class="or"/></g>
<g transform="translate(0,239.23)"><text x="411" y="3.6" class="e cl">Chuquibambilla</text><rect x="442.67" y="0.3" width="3.33" height="2.3" class="pu"/><rect x="442.67" y="2.6" width="34" height="2.3" class="or"/><rect x="595" y="0.6" width="5" height="3.8" class="cy"/></g>
<g transform="translate(0,244.4)"><text x="411" y="3.6" class="e cl">Santa Rosa</text><rect x="442.67" y="0.3" width="1" height="2.3" class="pu"/><rect x="442.67" y="2.6" width="39" height="2.3" class="or"/><rect x="587.3" y="0.6" width="12.67" height="3.8" class="cy"/></g>
<g transform="translate(0,249.57)"><text x="411" y="3.6" class="e cl">Cojata</text></g>
<g transform="translate(0,254.74)"><text x="411" y="3.6" class="e cl">Azángaro</text><rect x="442.67" y="0.3" width="10" height="2.3" class="pu"/><rect x="442.67" y="2.6" width="38.33" height="2.3" class="or"/><rect x="599.2" y="0.6" width="0.8" height="3.8" class="cy"/></g>
<g transform="translate(0,259.91)"><text x="411" y="3.6" class="e cl">Putina</text><rect x="442.67" y="0.3" width="9.33" height="2.3" class="pu"/><rect x="442.67" y="2.6" width="36.67" height="2.3" class="or"/></g>
<g transform="translate(0,265.08)"><text x="411" y="3.6" class="e cl">Muñani</text></g>
<g transform="translate(0,270.25)"><text x="411" y="3.6" class="e cl">Progreso</text><rect x="442.67" y="0.3" width="7.33" height="2.3" class="pu"/><rect x="442.67" y="2.6" width="33" height="2.3" class="or"/></g>
<g transform="translate(0,275.42)"><text x="411" y="3.6" class="e cl">Ananea</text><rect x="442.67" y="0.3" width="4" height="2.3" class="pu"/><rect x="442.67" y="2.6" width="25.67" height="2.3" class="or"/></g>
<g transform="translate(0,280.59)"><text x="411" y="3.6" class="e cl">Crucero</text><rect x="442.67" y="0.3" width="5.67" height="2.3" class="pu"/><rect x="442.67" y="2.6" width="31" height="2.3" class="or"/></g>
<g transform="translate(0,285.76)"><text x="411" y="3.6" class="e cl">Macusani</text><rect x="442.67" y="0.3" width="2" height="2.3" class="pu"/><rect x="442.67" y="2.6" width="29" height="2.3" class="or"/></g>
<g transform="translate(0,290.93)"><text x="411" y="3.6" class="e cl">Cuyocuyo</text><rect x="442.67" y="0.3" width="12.33" height="2.3" class="pu"/><rect x="442.67" y="2.6" width="29.33" height="2.3" class="or"/></g>
<g transform="translate(0,296.1)"><text x="411" y="3.6" class="e cl">Limbani</text><rect x="442.67" y="0.3" width="5" height="2.3" class="pu"/><rect x="442.67" y="2.6" width="40" height="2.3" class="or"/><rect x="599.2" y="0.6" width="0.8" height="3.8" class="cy"/></g>
<g transform="translate(0,301.27)"><text x="411" y="3.6" class="e cl">Quincemil</text><rect x="442.67" y="0.3" width="20" height="2.3" class="pu"/><rect x="442.67" y="2.6" width="41.67" height="2.3" class="or"/></g>
<g transform="translate(0,306.44)"><text x="411" y="3.6" class="e cl">Tambopata</text><rect x="442.67" y="0.3" width="33.33" height="2.3" class="pu"/><rect x="442.67" y="2.6" width="53.33" height="2.3" class="or"/><rect x="586" y="0.6" width="14" height="3.8" class="cy"/></g>
<g transform="translate(0,311.61)"><text x="411" y="3.6" class="e cl">San Gabán</text></g>
</g>

<g>
<text x="413.18" y="322.5" class="m sm">-15</text><text x="423.01" y="322.5" class="m sm">-10</text><text x="432.84" y="322.5" class="m sm">-5</text><text x="442.67" y="322.5" class="m sm">0</text><text x="452.5" y="322.5" class="m sm">5</text><text x="462.33" y="322.5" class="m sm">10</text><text x="472.16" y="322.5" class="m sm">15</text><text x="481.99" y="322.5" class="m sm">20</text><text x="491.82" y="322.5" class="m sm">25</text><text x="501.65" y="322.5" class="m sm">30</text><text x="511.48" y="322.5" class="m sm">35</text><text x="521.31" y="322.5" class="m sm">40</text><text x="531.14" y="322.5" class="m sm">45</text><text x="540.97" y="322.5" class="m sm">50</text><text x="550.8" y="322.5" class="m sm">55</text><text x="560.63" y="322.5" class="m sm">60</text><text x="570.46" y="322.5" class="m sm">65</text><text x="580.29" y="322.5" class="m sm">70</text><text x="590.12" y="322.5" class="m sm">75</text><text x="599.95" y="322.5" class="m sm">80</text>
</g>

<text transform="translate(384,202) rotate(-90)" class="m bd" style="font-size:5.5px;letter-spacing:3.2px">Estaciones</text>

<!-- chart legend -->
<rect x="487.7" y="96.3" width="49.6" height="25.4" fill="#f0f3e2" stroke="#555" stroke-width="0.5"/>
<rect x="497.3" y="99" width="2.3" height="2.3" class="pu"/><text x="501.5" y="101.2" style="font-size:2.7px">Tmínima</text>
<rect x="497.3" y="107.4" width="2.3" height="2.3" class="or"/><text x="501.5" y="109.6" style="font-size:2.7px">Tmáxima</text>
<rect x="497.3" y="115.8" width="2.3" height="2.3" fill="#3aa8d8"/><text x="501.5" y="118" style="font-size:2.7px">Precipitación</text>

<!-- BOTTOM CHART -->
<rect x="390.7" y="337.3" width="181.6" height="109.4" fill="#fff" stroke="#d4d4d4" stroke-width="0.6"/>
<text x="472" y="346.2" class="m bd" style="font-size:5px">MONITOREO</text>
<text x="472" y="354.3" class="m bd" style="font-size:5px">DEL NIVEL DE AGUA DE LOS RÍOS</text>
<text x="475" y="361" class="m" style="font-size:2px">(Nivel de agua registrado en estaciones hidrológicas)</text>
<rect x="419.3" y="366.7" width="144.7" height="42.6" fill="#e8e8e8"/>
<path d="M419.3 366.7V409.3H564" stroke="#9a9a9a" stroke-width="0.4" fill="none"/>
<text x="414.5" y="368.6" class="e" style="font-size:2.3px">10.000</text>
<text x="414.5" y="376.9" class="e" style="font-size:2.3px">8.000</text>
<text x="414.5" y="385.2" class="e" style="font-size:2.3px">6.000</text>
<text x="414.5" y="393.6" class="e" style="font-size:2.3px">4.000</text>
<text x="414.5" y="401.9" class="e" style="font-size:2.3px">2.000</text>
<text x="414.5" y="410.2" class="e" style="font-size:2.3px">0.000</text>
<text transform="translate(398,391) rotate(-90)" class="m bd" style="font-size:2.3px">Nivel del agua (m)</text>
<use href="#sun" transform="translate(473.5,381.5) scale(0.5)"/>
<circle cx="473.5" cy="381.5" r="2.4" fill="#f9c72a"/>
<text x="475" y="384.6" style="font-size:6px;font-weight:bold;font-style:italic;fill:#1e3c96" textLength="25">Senamhi</text>
<rect x="422" y="372.3" width="2.4" height="37" fill="#bfe2ee" stroke="#3c8dae" stroke-width="0.35"/>
<g fill="#434b8c">
<rect x="436.4" y="405" width="2.8" height="4.3"/>
<rect x="448.4" y="398" width="2.8" height="11.3"/>
<rect x="472.2" y="403.7" width="2.8" height="5.6"/>
<rect x="484.2" y="400.3" width="2.8" height="9"/>
<rect x="496.2" y="403" width="2.8" height="6.3"/>
<rect x="508.2" y="403" width="2.8" height="6.3"/>
<rect x="520" y="388.3" width="2.8" height="21"/>
<rect x="532" y="406" width="2.8" height="3.3"/>
<rect x="544" y="403.7" width="2.8" height="5.6"/>
<rect x="556.2" y="372.3" width="2.8" height="37"/>
</g>
<g fill="#c44a48">
<rect x="439.2" y="405" width="2.8" height="4.3"/>
<rect x="451.2" y="398" width="2.8" height="11.3"/>
<rect x="475" y="403.7" width="2.8" height="5.6"/>
<rect x="487" y="399.3" width="2.8" height="10"/>
<rect x="499" y="403" width="2.8" height="6.3"/>
<rect x="511" y="403" width="2.8" height="6.3"/>
<rect x="522.8" y="386" width="2.8" height="23.3"/>
<rect x="534.8" y="406" width="2.8" height="3.3"/>
<rect x="546.8" y="403.7" width="2.8" height="5.6"/>
<rect x="559" y="372.3" width="2.8" height="37"/>
</g>
<g>
<text transform="translate(424,412) rotate(-45)" class="e bd" style="font-size:3.2px">Lago</text>
<text transform="translate(440,412) rotate(-45)" class="e bd" style="font-size:3.2px">Rio Ilave</text>
<text transform="translate(452,412) rotate(-45)" class="e bd" style="font-size:3.2px">Rio Azángaro</text>
<text transform="translate(476,412) rotate(-45)" class="e bd" style="font-size:3.2px">Rio Coatamarca</text>
<text transform="translate(488,412) rotate(-45)" class="e bd" style="font-size:3.2px">Rio Huancané</text>
<text transform="translate(500,412) rotate(-45)" class="e bd" style="font-size:3.2px">Rio Lampa</text>
<text transform="translate(512,412) rotate(-45)" class="e bd" style="font-size:3.2px">Rio Unocolla</text>
<text transform="translate(524,412) rotate(-45)" class="e bd" style="font-size:3.2px">Rio Ramis</text>
<text transform="translate(536,412) rotate(-45)" class="e bd" style="font-size:3.2px">Rio Zapatilla</text>
<text transform="translate(548,412) rotate(-45)" class="e bd" style="font-size:3.2px">Rio Verde</text>
<text transform="translate(560,412) rotate(-45)" class="e bd" style="font-size:3.2px">Rio Desaguadero</text>
</g>
<text x="488.5" y="436.5" class="m bd" style="font-size:2.8px">Lagos - Ríos</text>
</svg>
</body></html>
